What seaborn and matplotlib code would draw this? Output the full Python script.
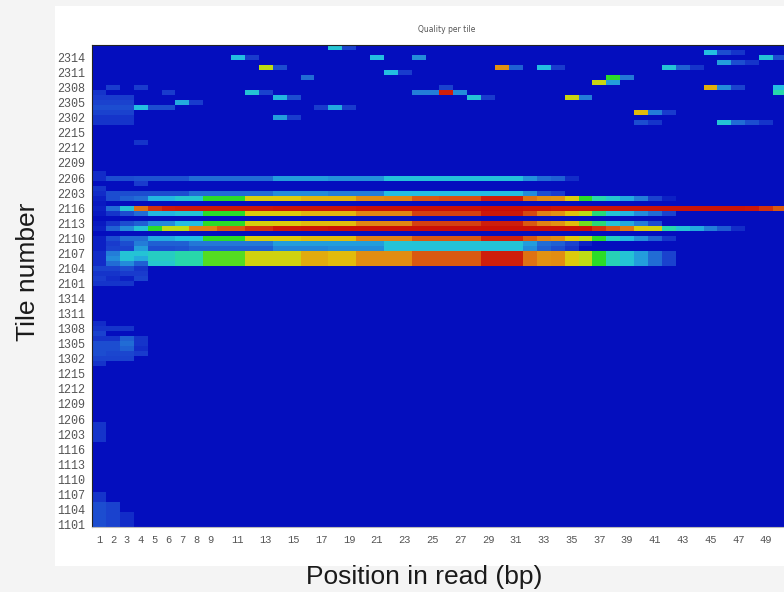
import numpy as np
import pandas as pd
import matplotlib
matplotlib.use("Agg")
import matplotlib.pyplot as plt
import seaborn as sns
from matplotlib.colors import LinearSegmentedColormap
from matplotlib.patches import Rectangle

# ---------------------------------------------------------------- data
positions = list(range(1, 52))                       # base position in read
surfaces = [11, 12, 13, 21, 22, 23]                  # lane/surface/swath prefixes
tiles = [s * 100 + t for s in surfaces for t in range(1, 17)]

# deviation score per tile row that shows a wide band (one value per position)
band_rows = {
    2206: [0.8, 1.5, 1.5, 1.6, 1.6, 1.6, 1.6, 2.0, 2.0, 2.0, 2.0, 2.0, 2.0, 2.8, 2.8, 2.8, 2.8,
           2.6, 2.6, 2.6, 2.6, 3.4, 3.4, 3.4, 3.4, 3.4, 3.4, 3.4, 3.4, 3.4, 3.4, 2.6, 2.0, 1.8, 0.8,
           0, 0, 0, 0, 0, 0, 0, 0, 0, 0, 0, 0, 0, 0, 0, 0],
    2203: [0.8, 1.5, 1.5, 1.5, 1.5, 1.5, 1.5, 2.0, 2.0, 2.0, 2.0, 2.0, 2.0, 2.5, 2.5, 2.5, 2.5,
           2.3, 2.3, 2.3, 2.3, 3.3, 3.3, 3.3, 3.3, 3.3, 3.3, 3.3, 3.3, 3.3, 3.3, 2.5, 1.5, 1.2, 0,
           0, 0, 0, 0, 0, 0, 0, 0, 0, 0, 0, 0, 0, 0, 0, 0],
    2202: [0.5, 1.5, 1.8, 2.0, 3.2, 3.2, 3.6, 3.6, 5.0, 5.0, 5.0, 6.4, 6.4, 6.5, 6.5, 6.9, 6.9,
           6.9, 6.9, 7.6, 7.6, 7.7, 7.7, 8.3, 8.3, 8.4, 8.4, 8.4, 9.3, 9.3, 9.3, 8.0, 7.6, 7.5, 6.5,
           5.0, 4.2, 3.6, 3.0, 2.3, 1.3, 0.5, 0, 0, 0, 0, 0, 0, 0, 0, 0],
    2116: [0.5, 2.0, 3.5, 8.0, 8.8, 9.4, 9.5, 9.5, 9.5, 9.5, 9.5, 9.5, 9.5, 9.6, 9.6, 9.6, 9.6,
           9.6, 9.6, 9.7, 9.7, 9.7, 9.7, 9.7, 9.7, 9.7, 9.7, 9.7, 9.8, 9.8, 9.8, 9.7, 9.7, 9.6, 9.6,
           9.6, 9.6, 9.6, 9.6, 9.6, 9.6, 9.6, 9.6, 9.6, 9.6, 9.6, 9.6, 9.5, 8.8, 8.3, 8.0],
    2115: [0.3, 1.0, 1.5, 2.0, 3.2, 3.2, 3.5, 3.5, 5.0, 5.0, 5.0, 6.5, 6.5, 6.5, 6.5, 6.9, 6.9,
           6.9, 6.9, 7.7, 7.7, 7.7, 7.7, 8.6, 8.6, 8.6, 8.6, 8.6, 9.5, 9.5, 9.5, 8.5, 7.8, 7.5, 6.7,
           6.0, 4.5, 3.5, 3.2, 2.5, 2.0, 1.3, 0, 0, 0, 0, 0, 0, 0, 0, 0],
    2113: [0.3, 1.0, 1.5, 1.8, 2.5, 2.5, 3.3, 3.3, 5.0, 5.0, 5.0, 6.4, 6.4, 6.5, 6.5, 6.8, 6.8,
           6.8, 6.8, 7.7, 7.7, 7.7, 7.7, 8.6, 8.6, 8.6, 8.6, 8.6, 9.3, 9.3, 9.3, 8.3, 7.8, 7.5, 6.8,
           5.5, 4.5, 3.5, 3.0, 2.3, 1.5, 0, 0, 0, 0, 0, 0, 0, 0, 0, 0],
    2112: [0.5, 1.8, 2.5, 3.5, 5.0, 6.0, 6.0, 7.8, 7.8, 8.3, 8.3, 8.8, 8.8, 9.5, 9.5, 9.6, 9.6,
           9.7, 9.7, 9.7, 9.7, 9.7, 9.7, 9.7, 9.7, 9.7, 9.7, 9.7, 9.7, 9.7, 9.7, 9.7, 9.7, 9.7, 9.7,
           9.7, 8.8, 8.3, 7.9, 6.5, 6.3, 4.2, 3.5, 3.0, 2.3, 1.7, 0.8, 0, 0, 0, 0],
    2110: [0.5, 1.5, 2.0, 2.0, 3.0, 3.0, 3.3, 3.3, 5.0, 5.0, 5.0, 6.4, 6.4, 6.5, 6.5, 6.8, 6.8,
           6.8, 6.8, 7.8, 7.8, 7.8, 7.8, 8.3, 8.3, 8.3, 8.3, 8.3, 9.2, 9.2, 9.2, 8.3, 7.8, 7.6, 6.6,
           6.0, 5.0, 3.8, 3.2, 2.5, 1.8, 1.0, 0, 0, 0, 0, 0, 0, 0, 0, 0],
    2109: [0.5, 1.2, 1.5, 2.3, 1.8, 1.8, 1.8, 2.2, 2.2, 2.2, 2.2, 2.2, 2.2, 2.8, 2.8, 2.8, 2.8,
           2.8, 2.8, 2.8, 2.8, 3.5, 3.5, 3.5, 3.5, 3.5, 3.5, 3.5, 3.5, 3.5, 3.5, 2.8, 2.0, 1.8, 1.3,
           0.5, 0, 0, 0, 0, 0, 0, 0, 0, 0, 0, 0, 0, 0, 0, 0],
    2108: [0.5, 1.3, 1.3, 2.8, 1.5, 1.5, 1.6, 1.8, 1.8, 1.8, 1.8, 1.8, 1.8, 2.4, 2.4, 2.4, 2.4,
           2.5, 2.5, 2.5, 2.5, 3.4, 3.4, 3.4, 3.4, 3.4, 3.4, 3.4, 3.4, 3.4, 3.4, 2.5, 1.8, 1.5, 1.0,
           0, 0, 0, 0, 0, 0, 0, 0, 0, 0, 0, 0, 0, 0, 0, 0],
    2107: [0.8, 2.3, 3.5, 3.5, 3.8, 3.8, 4.2, 4.2, 5.3, 5.3, 5.3, 6.3, 6.3, 6.3, 6.3, 7.1, 7.1,
           6.8, 6.8, 7.6, 7.6, 7.6, 7.6, 8.3, 8.3, 8.3, 8.3, 8.3, 9.3, 9.3, 9.3, 8.0, 7.5, 7.6, 6.5,
           6.0, 5.0, 4.0, 3.5, 2.8, 2.0, 1.3, 0, 0, 0, 0, 0, 0, 0, 0, 0],
    2106: [0.8, 2.5, 3.5, 3.0, 3.8, 3.8, 4.2, 4.2, 5.3, 5.3, 5.3, 6.3, 6.3, 6.3, 6.3, 7.1, 7.1,
           6.8, 6.8, 7.6, 7.6, 7.6, 7.6, 8.3, 8.3, 8.3, 8.3, 8.3, 9.3, 9.3, 9.3, 8.0, 7.5, 7.6, 6.5,
           6.0, 5.0, 4.0, 3.5, 2.8, 2.0, 1.3, 0, 0, 0, 0, 0, 0, 0, 0, 0],
    2105: [0.8, 2.0, 2.5, 1.8, 3.6, 3.6, 4.2, 4.2, 5.3, 5.3, 5.3, 6.3, 6.3, 6.3, 6.3, 7.1, 7.1,
           6.8, 6.8, 7.6, 7.6, 7.6, 7.6, 8.3, 8.3, 8.3, 8.3, 8.3, 9.3, 9.3, 9.3, 8.0, 7.5, 7.6, 6.5,
           6.0, 5.0, 4.0, 3.5, 2.8, 2.0, 1.3, 0, 0, 0, 0, 0, 0, 0, 0, 0],
}

# isolated cells: tile, position, deviation score
spot_tiles = [
    2316, 2316,
    2315, 2315, 2315,
    2314, 2314, 2314, 2314, 2314, 2314,
    2313, 2313, 2313,
    2312, 2312, 2312, 2312, 2312, 2312, 2312, 2312, 2312,
    2311, 2311,
    2310, 2310, 2310,
    2309, 2309,
    2308, 2308, 2308, 2308, 2308, 2308, 2308, 2308,
    2307, 2307, 2307, 2307, 2307, 2307, 2307, 2307, 2307, 2307,
    2306, 2306, 2306, 2306, 2306, 2306, 2306, 2306, 2306,
    2305, 2305, 2305, 2305, 2305,
    2304, 2304, 2304, 2304, 2304, 2304, 2304, 2304, 2304,
    2303, 2303, 2303, 2303, 2303, 2303,
    2302, 2302, 2302, 2302, 2302,
    2301, 2301, 2301, 2301, 2301, 2301, 2301, 2301, 2301,
    2213, 2207, 2205, 2204, 2201,
    2104, 2104, 2104, 2104, 2103, 2103, 2103, 2103,
    2102, 2102, 2102, 2102, 2101, 2101, 2101,
    1309, 1308, 1308, 1308, 1307,
    1306, 1306, 1306, 1306, 1305, 1305, 1305, 1305,
    1304, 1304, 1304, 1304, 1303, 1303, 1303, 1303,
    1302, 1302, 1302, 1301,
    1205, 1204, 1203, 1202,
    1107, 1106, 1105, 1105, 1104, 1104, 1103, 1103, 1103,
    1102, 1102, 1102, 1101, 1101, 1101,
]
spot_positions = [
    18, 19,
    45, 46, 47,
    11, 12, 21, 24, 49, 50,
    46, 47, 48,
    13, 14, 30, 31, 33, 34, 42, 43, 44,
    22, 23,
    16, 38, 39,
    37, 38,
    2, 4, 26, 45, 46, 47, 50, 51,
    1, 6, 12, 13, 25, 26, 27, 50, 51, 24,
    1, 2, 3, 14, 15, 28, 29, 35, 36,
    1, 2, 3, 7, 8,
    1, 2, 3, 4, 5, 6, 18, 19, 17,
    1, 2, 3, 40, 41, 42,
    1, 2, 3, 14, 15,
    1, 2, 3, 40, 41, 46, 47, 48, 49,
    4, 1, 4, 1, 1,
    1, 2, 3, 4, 1, 2, 3, 4,
    1, 2, 3, 4, 1, 2, 3,
    1, 1, 2, 3, 1,
    1, 2, 3, 4, 1, 2, 3, 4,
    1, 2, 3, 4, 1, 2, 3, 4,
    1, 2, 3, 1,
    1, 1, 1, 1,
    1, 1, 1, 2, 1, 2, 1, 2, 3,
    1, 2, 3, 1, 2, 3,
]
spot_values = [
    3.5, 1.3,
    3.3, 1.5, 1.0,
    3.3, 1.2, 3.3, 2.5, 3.5, 1.5,
    2.8, 1.5, 1.0,
    6.0, 1.5, 7.5, 1.8, 3.3, 1.2, 3.5, 1.8, 1.0,
    3.3, 1.2,
    2.0, 5.0, 2.2,
    6.2, 2.8,
    1.2, 1.2, 1.3, 7.0, 2.5, 1.3, 3.3, 3.0,
    1.0, 1.2, 3.5, 1.3, 2.3, 9.3, 2.5, 4.2, 4.0, 2.3,
    1.2, 1.2, 1.2, 3.2, 1.5, 3.5, 1.2, 6.2, 2.3,
    1.3, 1.3, 1.3, 3.0, 1.2,
    1.5, 1.5, 1.5, 3.3, 1.5, 1.5, 3.0, 1.2, 1.2,
    1.3, 1.3, 1.3, 6.8, 2.3, 1.2,
    1.0, 1.0, 1.0, 2.8, 1.2,
    1.0, 1.0, 1.0, 1.5, 1.0, 3.5, 2.0, 1.5, 1.0,
    1.0, 0.8, 1.2, 1.0, 0.3,
    1.3, 1.3, 1.5, 1.0, 1.0, 1.0, 1.2, 1.2,
    1.2, 0.8, 0.5, 1.3, 1.0, 1.0, 1.0,
    0.8, 1.0, 1.0, 1.0, 1.3,
    1.0, 1.0, 1.8, 1.0, 1.5, 1.5, 2.0, 1.0,
    1.5, 1.5, 1.8, 0.8, 1.5, 1.4, 1.4, 1.2,
    1.3, 1.3, 1.3, 1.0,
    1.0, 1.0, 1.0, 1.0,
    1.0, 1.0, 1.5, 1.3, 1.5, 1.3, 1.5, 1.3, 0.8,
    1.5, 1.3, 0.8, 1.5, 1.3, 0.8,
]

# ---------------------------------------------------------------- matrix
grid = pd.DataFrame(0.0, index=tiles[::-1], columns=positions)
for tile, row in band_rows.items():
    grid.loc[tile] = row
for tile, pos, val in zip(spot_tiles, spot_positions, spot_values):
    grid.loc[tile, pos] = val

# blue -> cyan -> green -> yellow -> red scale
anchors = [
    (0.00, (4, 14, 190)),
    (0.12, (25, 60, 205)),
    (0.22, (35, 120, 215)),
    (0.33, (35, 190, 225)),
    (0.42, (40, 215, 170)),
    (0.50, (40, 220, 40)),
    (0.60, (190, 220, 20)),
    (0.66, (225, 200, 10)),
    (0.78, (225, 130, 20)),
    (0.88, (210, 50, 15)),
    (1.00, (200, 5, 5)),
]
cmap = LinearSegmentedColormap.from_list(
    "tilequal", [(p, tuple(c / 255 for c in rgb)) for p, rgb in anchors])

# ---------------------------------------------------------------- figure
W, H = 784, 592
fig = plt.figure(figsize=(W / 100, H / 100), dpi=100, facecolor="#f4f4f4")
fig.patches.append(Rectangle((55 / W, 1 - 566 / H), 1, 560 / H,
                             transform=fig.transFigure, facecolor="white",
                             edgecolor="none", zorder=-10))

col_w = 13.9
left, top, bottom = 92, 45, 527
ax = fig.add_axes([left / W, 1 - bottom / H, len(positions) * col_w / W, (bottom - top) / H])
ax.set_zorder(5)

sns.heatmap(grid, ax=ax, cmap=cmap, vmin=0, vmax=10, cbar=False,
            xticklabels=False, yticklabels=False, linewidths=0)

# y ticks: every third tile starting from the first
ytick_tiles = tiles[::3]
ax.set_yticks([len(tiles) - 1 - tiles.index(t) + 0.5 for t in ytick_tiles])
ax.set_yticklabels([str(t) for t in ytick_tiles], family="Liberation Mono",
                   fontsize=8.5, color="#555555")

# x ticks: 1..9 then every other position up to the last one in view
xtick_pos = [p for p in positions if (p <= 9 or p % 2 == 1) and p < 50]
ax.set_xticks([p - 0.5 for p in xtick_pos])
ax.set_xticklabels([str(p) for p in xtick_pos], family="Liberation Mono",
                   fontsize=7.5, color="#555555", rotation=0)

ax.tick_params(axis="both", length=0)
ax.tick_params(axis="y", pad=5)
ax.tick_params(axis="x", pad=6)
ax.set_xlabel("")
ax.set_ylabel("")

for side, spine in ax.spines.items():
    spine.set_visible(True)
    spine.set_linewidth(0.8)
    spine.set_color("#222222" if side in ("top", "left") else "#bbbbbb")

ax.set_title("Quality per tile", fontsize=5.5, color="#555555", pad=9,
             family="DejaVu Sans")

fig.text(424 / W, 1 - 577 / H, "Position in read (bp)", ha="center", va="center",
         fontsize=19, family="Liberation Sans", color="#1a1a1a")
fig.text(28 / W, 1 - 272 / H, "Tile number", ha="center", va="center",
         rotation=90, fontsize=19, family="Liberation Sans", color="#1a1a1a")

fig.savefig("out.png", dpi=100, facecolor=fig.get_facecolor())
